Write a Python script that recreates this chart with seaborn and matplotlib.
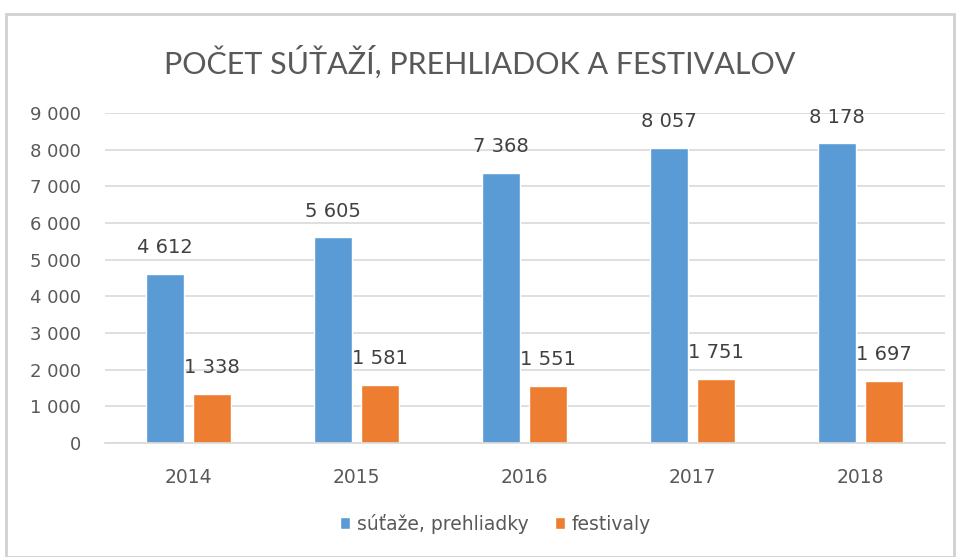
import matplotlib.pyplot as plt
import seaborn as sns
import pandas as pd
from matplotlib.patches import Rectangle

roky = ['2014', '2015', '2016', '2017', '2018']
sutaze = [4612, 5605, 7368, 8057, 8178]
festivaly = [1338, 1581, 1551, 1751, 1697]
serie = ['súťaže, prehliadky', 'festivaly']
farby = ['#5B9BD5', '#ED7D31']

df = pd.DataFrame({
    'rok': roky * 2,
    'pocet': sutaze + festivaly,
    'typ': [serie[0]] * len(roky) + [serie[1]] * len(roky),
})

sns.set_style('white')
plt.rcParams['font.family'] = ['DejaVu Sans']

fig = plt.figure(figsize=(9.6, 5.57), dpi=100)
ax = fig.add_axes([0.109, 0.205, 0.875, 0.592])

sns.barplot(data=df, x='rok', y='pocet', hue='typ', palette=farby,
            width=0.56, gap=0.2, saturation=1, ax=ax)

ax.set_ylim(0, 9000)
ax.set_yticks(range(0, 9001, 1000))
ax.set_yticklabels([f'{v:,}'.replace(',', ' ') for v in range(0, 9001, 1000)])
ax.yaxis.grid(True, color='#d9d9d9', linewidth=1.2)
ax.set_axisbelow(True)
for s in ['top', 'right', 'left']:
    ax.spines[s].set_visible(False)
ax.spines['bottom'].set_color('#d9d9d9')
ax.spines['bottom'].set_linewidth(1.2)
ax.tick_params(axis='y', length=0, labelsize=13, labelcolor='#595959', pad=17)
ax.tick_params(axis='x', length=0, labelsize=13.5, labelcolor='#595959', pad=18)
ax.set_xlabel('')
ax.set_ylabel('')

# popisky hodnot nad stlpcami
for cont in ax.containers:
    ax.bar_label(cont, labels=[f'{int(v):,}'.replace(',', ' ') for v in cont.datavalues],
                 padding=12, fontsize=14, color='#404040')

ax.legend(loc='center', bbox_to_anchor=(0.465, -0.245), ncol=2, frameon=False,
          fontsize=13.5, labelcolor='#595959', handlelength=0.55, handleheight=0.55,
          columnspacing=1.4, handletextpad=0.35)

fig.text(0.5, 0.888, 'POČET SÚŤAŽÍ, PREHLIADOK A FESTIVALOV', ha='center', va='center',
         fontsize=22, color='#595959', family='Lato')

fig.patches.append(Rectangle((0.006, 0.0), 0.988, 0.975, transform=fig.transFigure,
                             fill=False, edgecolor='#d0d0d0', linewidth=2))

fig.savefig('out.png', dpi=100)
